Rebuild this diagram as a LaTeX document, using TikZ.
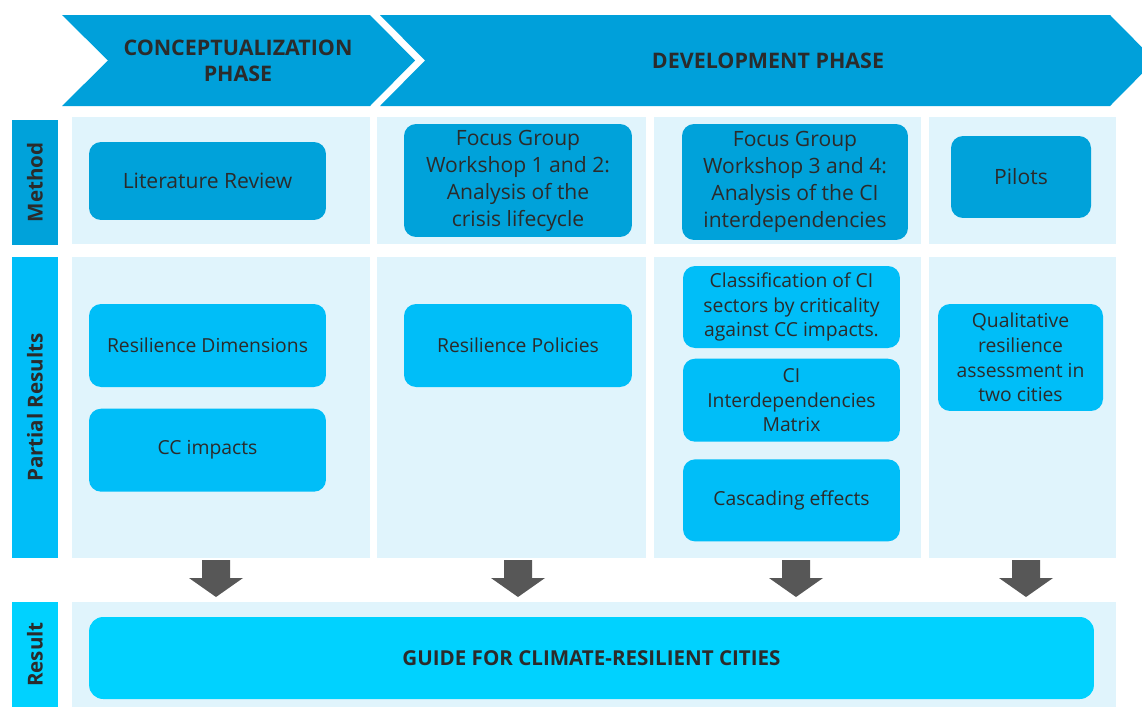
\documentclass[tikz,border=0pt]{standalone}
\usepackage{fontspec}
\setmainfont{Open Sans}
\usetikzlibrary{positioning}
\definecolor{phaseblue}{HTML}{00A0DA}
\definecolor{methodblue}{HTML}{00A2DA}
\definecolor{partialblue}{HTML}{00BEF8}
\definecolor{resultblue}{HTML}{00D2FF}
\definecolor{panelblue}{HTML}{E0F4FC}
\definecolor{arrowgray}{HTML}{575757}
\definecolor{textdark}{HTML}{2B2B2B}
\tikzset{
    phase/.style={
        align=center, text=textdark,
        font=\fontsize{12.2}{14.8}\selectfont\bfseries
    },
    rowlabel/.style={
        rectangle, rotate=90, inner sep=0pt,
        minimum height=0.92cm, text=textdark,
        font=\fontsize{11.7}{13}\selectfont\bfseries
    },
    panel/.style={fill=panelblue},
    methodbox/.style={
        rectangle, rounded corners=0.24cm,
        fill=methodblue, align=center, inner sep=2pt,
        text=textdark, font=\fontsize{12}{15.4}\selectfont
    },
    partialbox/.style={
        rectangle, rounded corners=0.24cm,
        fill=partialblue, align=center, inner sep=2pt,
        text=textdark, font=\fontsize{11}{14}\selectfont
    },
    resultbox/.style={
        rectangle, rounded corners=0.28cm,
        fill=resultblue, align=center,
        text=textdark, font=\fontsize{11.7}{13}\selectfont\bfseries
    },
    blockarrow/.style={fill=arrowgray}
}

\begin{document}
\begin{tikzpicture}[x=0.02cm, y=-0.02cm]
\useasboundingbox (0,0) rectangle (1142,707);

% Phase chevrons
\fill[phaseblue] (62,15) -- (370,15) -- (415,60.5) -- (370,106) -- (62,106) -- (108,60.5) -- cycle;
\fill[phaseblue] (380,15) -- (1110,15) -- (1155,60.5) -- (1110,106) -- (380,106) -- (425,60.5) -- cycle;
\node[phase] (concept) at (238,60.5) {CONCEPTUALIZATION\\PHASE};
\node[phase] (develop) at (768,60.5) {DEVELOPMENT\ PHASE};

% Background panels
\foreach \xa/\xb in {72/370, 377/646, 654/921, 929/1116} {
    \fill[panel] (\xa,117) rectangle (\xb,244);
    \fill[panel] (\xa,257) rectangle (\xb,558);
}
\fill[panel] (72,602) rectangle (1116,707);

% Row labels
\node[rowlabel, fill=methodblue, minimum width=2.5cm] (lblmethod) at (35,182.5) {Method};
\node[rowlabel, fill=partialblue, minimum width=6.02cm] (lblpartial) at (35,407.5) {Partial Results};
\node[rowlabel, fill=resultblue, minimum width=2.1cm] (lblresult) at (35,654.5) {Result};

% Method row
\node[methodbox, minimum width=4.74cm, minimum height=1.56cm] (litrev) at (207.5,181) {Literature Review};
\node[methodbox, minimum width=4.56cm, minimum height=2.26cm] (fgone) at (518,180.5) {Focus Group\\Workshop 1 and 2:\\Analysis of the\\crisis lifecycle};
\node[methodbox, minimum width=4.52cm, minimum height=2.32cm] (fgtwo) at (795,182) {Focus Group\\Workshop 3 and 4:\\Analysis of the CI\\interdependencies};
\node[methodbox, minimum width=2.8cm, minimum height=1.64cm] (pilots) at (1021,177) {Pilots};

% Partial results row
\node[partialbox, minimum width=4.74cm, minimum height=1.66cm] (resdim) at (207.5,345.5) {Resilience Dimensions};
\node[partialbox, minimum width=4.74cm, minimum height=1.66cm, below=0.42cm of resdim] (ccimp) {CC impacts};
\node[partialbox, minimum width=4.56cm, minimum height=1.66cm] (respol) at (518,345.5) {Resilience Policies};
\node[partialbox, minimum width=4.34cm, minimum height=1.64cm] (classif) at (791.5,307) {Classification of CI\\sectors by criticality\\against CC impacts.};
\node[partialbox, minimum width=4.34cm, minimum height=1.66cm, below=0.2cm of classif] (cimatrix) {CI\\Interdependencies\\Matrix};
\node[partialbox, minimum width=4.34cm, minimum height=1.64cm, below=0.34cm of cimatrix] (cascade) {Cascading effects};
\node[partialbox, minimum width=3.3cm, minimum height=2.14cm] (qualit) at (1020.5,357.5) {Qualitative\\resilience\\assessment in\\two cities};

% Arrows down to the result
\foreach \ax in {216,518,796,1026}
    \fill[blockarrow] (\ax-14,560) -- (\ax+14,560) -- (\ax+14,578) -- (\ax+27,578)
        -- (\ax,597) -- (\ax-27,578) -- (\ax-14,578) -- cycle;

% Result
\node[resultbox, minimum width=20.1cm, minimum height=1.64cm] (guide) at (591.5,658) {GUIDE FOR CLIMATE-RESILIENT CITIES};

\end{tikzpicture}
\end{document}
